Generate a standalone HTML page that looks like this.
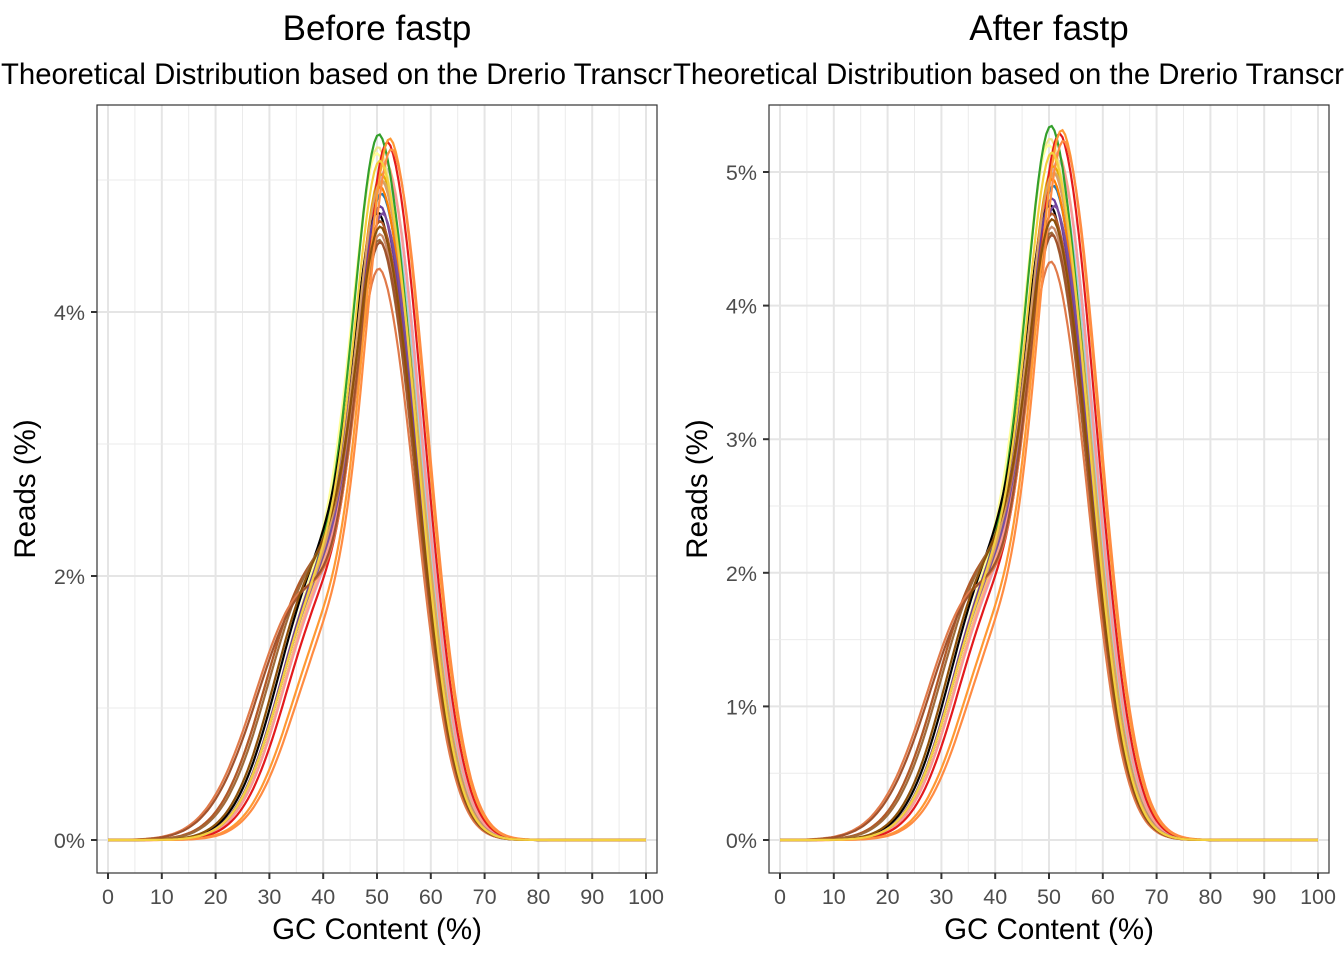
<!DOCTYPE html>
<html><head><meta charset="utf-8"><style>
body{margin:0;background:#fff}
svg{display:block;font-family:"Liberation Sans",Arial,sans-serif}
</style></head><body>
<svg id="s" width="1344" height="960" xmlns="http://www.w3.org/2000/svg">
<defs>
<clipPath id="cl"><rect x="0" y="0" width="672" height="960"/></clipPath>
<clipPath id="cr"><rect x="672" y="0" width="672" height="960"/></clipPath>
<clipPath id="p1"><rect x="97" y="105" width="560" height="768"/></clipPath>
<clipPath id="p2"><rect x="769" y="105" width="560" height="768"/></clipPath>
</defs>
</svg>
<script>
var s=document.getElementById('s'),NS='http://www.w3.org/2000/svg';
function el(t,a,txt){var e=document.createElementNS(NS,t);for(var k in a)e.setAttribute(k,a[k]);if(txt!=null)e.textContent=txt;s.appendChild(e);return e;}
// color, mu, peak, b, mb, sb
var defs=[
['#a6cee3',52.0,5.0,1.9,40,8],['#fdbf6f',52.3,5.1,1.9,40.5,8],['#cab2d6',52.4,5.05,1.85,40.5,8],
['#f0e68c',51.0,5.2,1.95,40,8],['#ffff99',50.8,5.15,1.95,40,8],['#e6ab02',51.6,5.0,1.9,40,8],
['#d4b05a',51.8,4.95,1.9,40,8],['#fb9a99',52.2,5.1,1.85,40.5,8],['#1f78b4',51.6,4.85,1.9,40,8],
['#e31a1c',52.6,5.25,1.8,41,8],['#33a02c',51.1,5.3,1.9,40,8],['#ff7f00',51.4,4.9,1.9,40,8],
['#000000',51.0,4.7,2.0,39.5,8],['#6a3d9a',51.4,4.75,1.95,40,8],['#7b4fa0',51.8,4.7,1.9,40,8],
['#c98a6a',51.3,4.55,2.0,38,8.5],['#b15928',51.3,4.65,2.0,38,8.5],['#d9a066',51.6,4.95,1.9,40,8],
['#9e6a3a',51.2,4.5,2.0,38.5,8.5],['#e07a4a',51.0,4.3,1.85,36.5,9],['#a0522d',51.2,4.5,1.85,37,9],
['#ff9933',53.0,5.28,1.65,42,8],['#ff8c42',53.3,5.2,1.6,42.5,8],['#8c510a',51.4,4.6,2.0,39,8],
['#f4d03f',51.3,5.1,1.9,40,8]
];
var series=defs.map(function(d){var b=d[3],mb=d[4],sb=d[5];var h=d[2]-b*Math.exp(-(d[1]-mb)*(d[1]-mb)/(2*sb*sb));return {c:d[0],mu:d[1],h:h,b:b,mb:mb,sb:sb};});
function f(x,p){var sg=x<p.mu?5.0:6.6;return p.h*Math.exp(-(x-p.mu)*(x-p.mu)/(2*sg*sg))+p.b*Math.exp(-(x-p.mb)*(x-p.mb)/(2*p.sb*p.sb));}
function panel(ox,title,yk,ypx,clip,tclip){
  var x0=ox+108,xs=5.38,y0=840;
  function X(v){return x0+v*xs}function Y(v){return y0-v*ypx}
  for(var v=5;v<=100;v+=10)el('line',{x1:X(v),x2:X(v),y1:105,y2:873,stroke:'#ebebeb','stroke-width':1});
  for(var v=0;v<=100;v+=10)el('line',{x1:X(v),x2:X(v),y1:105,y2:873,stroke:'#e5e5e5','stroke-width':2});
  for(var k=0;k<yk.minor.length;k++)el('line',{x1:ox+97,x2:ox+657,y1:Y(yk.minor[k]),y2:Y(yk.minor[k]),stroke:'#ebebeb','stroke-width':1});
  for(var k=0;k<yk.major.length;k++)el('line',{x1:ox+97,x2:ox+657,y1:Y(yk.major[k]),y2:Y(yk.major[k]),stroke:'#e5e5e5','stroke-width':2});
  var g=el('g',{'clip-path':'url(#'+clip+')'});
  series.forEach(function(p){var d='';for(var x=0;x<=100;x+=0.5){var v=f(x,p);d+=(x?'L':'M')+X(x).toFixed(1)+','+Y(v).toFixed(1);}
    var e=document.createElementNS(NS,'path');e.setAttribute('d',d);e.setAttribute('fill','none');e.setAttribute('stroke',p.c);e.setAttribute('stroke-width',2.2);g.appendChild(e);});
  el('rect',{x:ox+97,y:105,width:560,height:768,fill:'none',stroke:'#333','stroke-width':1.2});
  for(var v=0;v<=100;v+=10){el('line',{x1:X(v),x2:X(v),y1:873,y2:879,stroke:'#333','stroke-width':2});
    el('text',{x:X(v),y:904,'font-size':21.5,fill:'#4d4d4d','text-anchor':'middle'},v);}
  for(var k=0;k<yk.major.length;k++){var v=yk.major[k];el('line',{x1:ox+91,x2:ox+97,y1:Y(v),y2:Y(v),stroke:'#333','stroke-width':2});
    el('text',{x:ox+85,y:Y(v)+8,'font-size':21.5,fill:'#4d4d4d','text-anchor':'end'},v+'%');}
  el('text',{x:ox+377,y:939,'font-size':29.5,'text-anchor':'middle'},'GC Content (%)');
  el('text',{x:ox+35,y:489,'font-size':29.5,'text-anchor':'middle',transform:'rotate(-90 '+(ox+35)+' 489)'},'Reads (%)');
  el('text',{x:ox+377,y:40,'font-size':35,'text-anchor':'middle'},title);
  el('text',{x:ox+1,y:84,'font-size':29.3,'clip-path':'url(#'+tclip+')'},'Theoretical Distribution based on the Drerio Transcriptome');
}
panel(0,'Before fastp',{major:[0,2,4],minor:[1,3,5]},132,"p1","cl");
panel(672,'After fastp',{major:[0,1,2,3,4,5],minor:[0.5,1.5,2.5,3.5,4.5]},133.6,"p2","cr");
</script>
</body></html>
